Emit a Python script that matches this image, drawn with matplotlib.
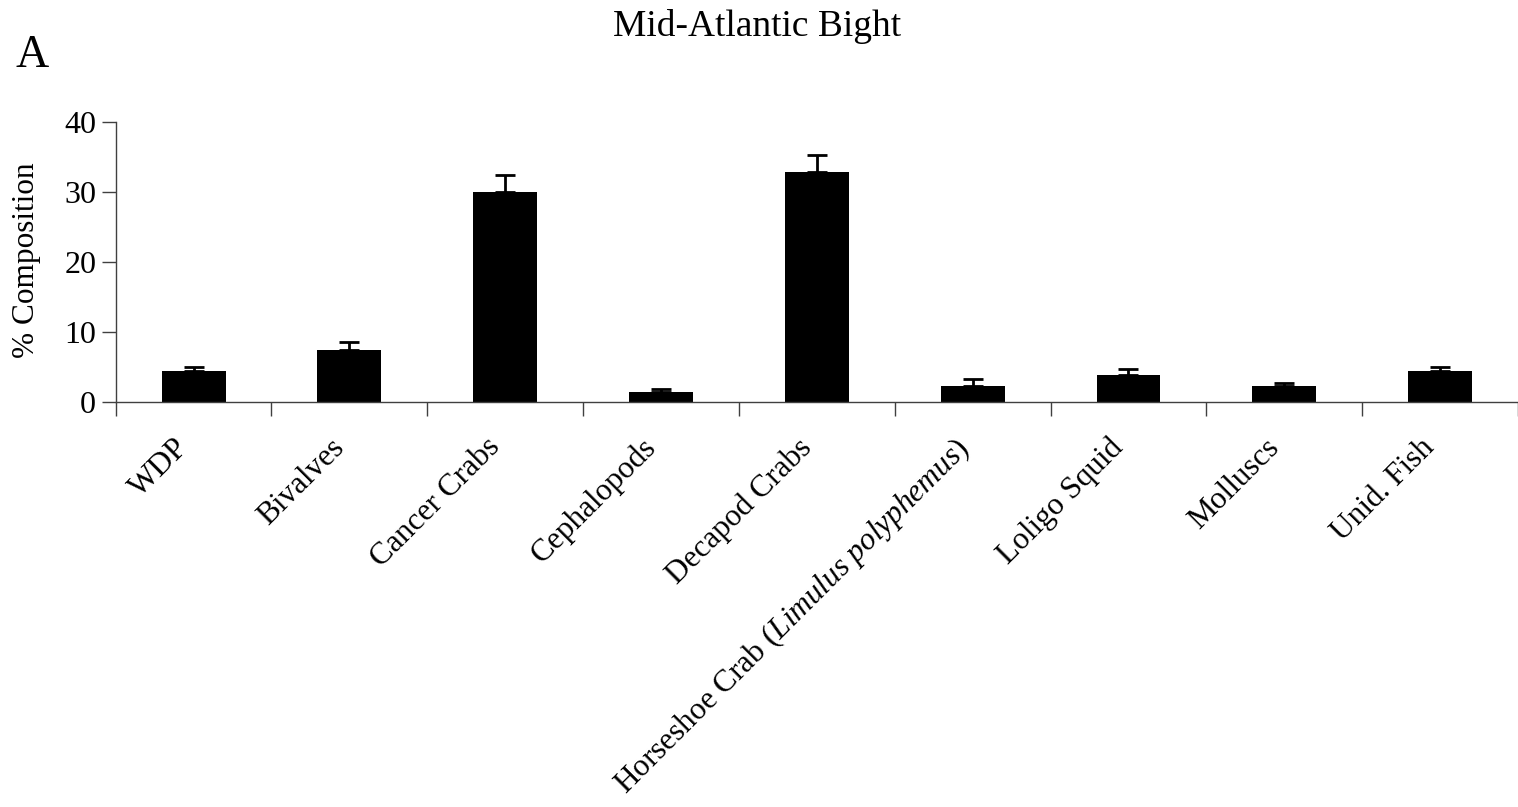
import numpy as np
import matplotlib.pyplot as plt
from matplotlib.transforms import ScaledTranslation

plt.rcParams['font.family'] = 'Liberation Serif'
plt.rcParams['mathtext.fontset'] = 'custom'
plt.rcParams['mathtext.rm'] = 'Liberation Serif'
plt.rcParams['mathtext.it'] = 'Liberation Serif:italic'

categories = ["WDP", "Bivalves", "Cancer Crabs", "Cephalopods", "Decapod Crabs",
              "Horseshoe Crab ($\\mathit{Limulus\\ polyphemus}$)",
              "Loligo Squid", "Molluscs", "Unid. Fish"]
composition = [4.5, 7.4, 30.1, 1.5, 32.9, 2.3, 3.9, 2.3, 4.4]
std_err = [0.5, 1.2, 2.3, 0.35, 2.4, 1.05, 0.85, 0.45, 0.7]

fig = plt.figure(figsize=(15.18, 8.07), dpi=100)
ax = fig.add_axes([0.0762, 0.5015, 0.9238, 0.347])

x = np.arange(len(categories))
ax.bar(x, composition, width=0.41, color='black')
# only the upper half of each error bar is shown
ax.errorbar(x, composition, yerr=[np.zeros(len(x)), std_err], fmt='none',
            ecolor='black', elinewidth=2, capsize=7, capthick=2)

ax.set_xlim(-0.5, len(categories) - 0.5)
ax.set_ylim(0, 40)
ax.set_yticks([0, 10, 20, 30, 40])

ax.set_xticks(x)
ax.set_xticklabels(categories, rotation=45, ha='right', va='top', rotation_mode='anchor')
ax.set_xticks(np.arange(-0.5, len(categories)), minor=True)
ax.tick_params(axis='x', which='major', length=0, pad=22, labelsize=22.5)
ax.tick_params(axis='x', which='minor', length=10, width=1, color='#404040')
ax.tick_params(axis='y', length=10, width=1, color='#404040', labelsize=23, pad=4)

# nudge the slanted labels a little to the left of the bar centres
shift = ScaledTranslation(-0.2, 0, fig.dpi_scale_trans)
for lab in ax.get_xticklabels():
    lab.set_transform(lab.get_transform() + shift)

for side in ['top', 'right']:
    ax.spines[side].set_visible(False)
for side in ['left', 'bottom']:
    ax.spines[side].set_color('#404040')
    ax.spines[side].set_linewidth(1)

fig.text(0.4987, 0.955, "Mid-Atlantic Bight", ha='center', va='baseline', fontsize=27)
fig.text(0.0105, 0.917, "A", ha='left', va='baseline', fontsize=33)
fig.text(0.0175, 0.678, "% Composition", rotation=90, ha='center', va='center', fontsize=22.5)

fig.savefig("out.png", dpi=100)
